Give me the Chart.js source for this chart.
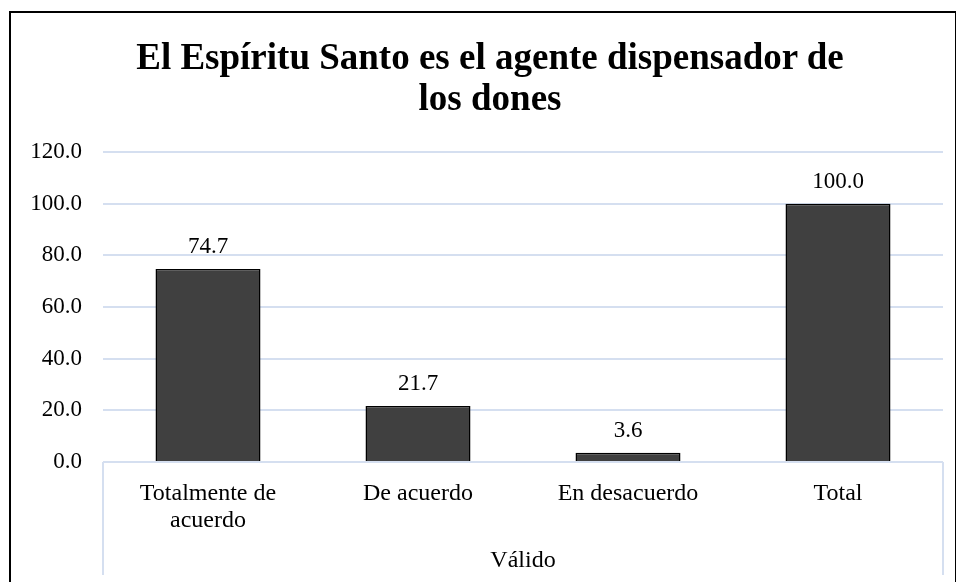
<!DOCTYPE html>
<html>
<head>
<meta charset="utf-8">
<script src="https://cdn.jsdelivr.net/npm/chart.js@4.4.0/dist/chart.umd.min.js"></script>
<style>
  html, body { margin: 0; background: #fff; overflow: hidden; }
  #frame {
    position: absolute; left: 9px; top: 11px; width: 944px; height: 600px;
    border-left: 2px solid #000; border-top: 2px solid #000; border-right: 2px solid #000;
  }
  #wrap { position: absolute; left: 0; top: 0; width: 956px; height: 582px; }
  #title {
    position: absolute; left: 10px; top: 36px; width: 960px;
    text-align: center; font: bold 37px/41px 'Liberation Serif', 'Times New Roman', serif; color: #000;
  }
</style>
</head>
<body>
<div id="frame"></div>
<div id="wrap"><canvas id="chart" width="956" height="582"></canvas></div>
<div id="title"></div>
<script>
// chart data
const categories = [["Totalmente de", "acuerdo"], "De acuerdo", "En desacuerdo", "Total"]
const values = [74.7, 21.7, 3.6, 100.0]
const groupLabel = "Válido"
const titleLines = ["El Espíritu Santo es el agente dispensador de", "los dones"]

const serif = "'Liberation Serif', 'Times New Roman', serif"
const gridBlue = "#d5dff0"

// chart title (centred on the whole chart frame, like the original)
document.getElementById("title").innerHTML = titleLines.join("<br>")

// value labels above bars
const barLabels = {
  id: "barLabels",
  afterDatasetsDraw(chart) {
    const ctx = chart.ctx
    const meta = chart.getDatasetMeta(0)
    ctx.save()
    ctx.font = "23px " + serif
    ctx.fillStyle = "#000"
    ctx.textAlign = "center"
    ctx.textBaseline = "middle"
    meta.data.forEach((bar, i) => {
      ctx.fillText(values[i].toFixed(1), bar.x, bar.y - 22)
    })
    ctx.restore()
  },
}

// outer lines of the grouped category axis
const groupLines = {
  id: "groupLines",
  afterDraw(chart) {
    const ctx = chart.ctx
    const area = chart.chartArea
    ctx.save()
    ctx.strokeStyle = gridBlue
    ctx.lineWidth = 2
    ctx.beginPath()
    ctx.moveTo(area.left, area.bottom)
    ctx.lineTo(area.left, 575)
    ctx.moveTo(area.right, area.bottom)
    ctx.lineTo(area.right, 575)
    ctx.stroke()
    ctx.restore()
  },
}

new Chart(document.getElementById("chart"), {
  type: "bar",
  data: {
    labels: categories,
    datasets: [
      {
        data: values,
        backgroundColor: "#404040",
        borderColor: "#000",
        borderWidth: 1.5,
        categoryPercentage: 1,
        barPercentage: 0.5,
      },
    ],
  },
  options: {
    responsive: false,
    animation: false,
    layout: { padding: { left: 0, right: 13, top: 152, bottom: 0 } },
    plugins: {
      legend: { display: false },
      tooltip: { enabled: false },
      title: { display: false },
    },
    scales: {
      y: {
        min: 0,
        max: 120,
        afterFit: (scale) => { scale.width = 103 },
        ticks: {
          stepSize: 20,
          padding: 21,
          color: "#000",
          font: { family: serif, size: 23 },
          callback: (v) => v.toFixed(1),
        },
        grid: { color: gridBlue, lineWidth: 2, drawTicks: false },
        border: { display: false },
      },
      x: {
        afterFit: (scale) => { scale.height = 120 },
        ticks: {
          padding: 19,
          color: "#000",
          maxRotation: 0,
          font: { family: serif, size: 24, lineHeight: 1.1 },
        },
        grid: { display: false, drawTicks: false },
        border: { display: false },
        title: {
          display: true,
          text: groupLabel,
          color: "#000",
          font: { family: serif, size: 24 },
          padding: { top: 0, bottom: 7 },
        },
      },
    },
  },
  plugins: [barLabels, groupLines],
})
</script>
</body>
</html>
